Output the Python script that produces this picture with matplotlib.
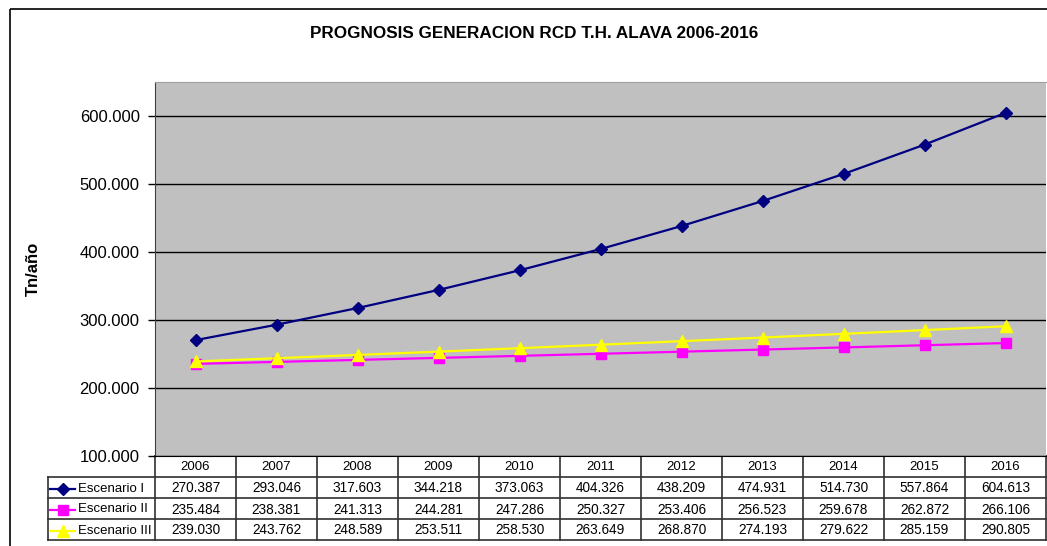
import numpy as np
import matplotlib.pyplot as plt
from matplotlib.patches import Rectangle

plt.rcParams['font.family'] = ['Liberation Sans', 'DejaVu Sans']

years = ['2006', '2007', '2008', '2009', '2010', '2011', '2012', '2013', '2014', '2015', '2016']
esc_1 = [270387, 293046, 317603, 344218, 373063, 404326, 438209, 474931, 514730, 557864, 604613]
esc_2 = [235484, 238381, 241313, 244281, 247286, 250327, 253406, 256523, 259678, 262872, 266106]
esc_3 = [239030, 243762, 248589, 253511, 258530, 263649, 268870, 274193, 279622, 285159, 290805]
names = ['Escenario I', 'Escenario II', 'Escenario III']
colors = ['#000080', '#FF00FF', '#FFFF00']
markers = ['D', 's', '^']
msizes = [6, 6.5, 8]

W, H = 1047, 546
fig = plt.figure(figsize=(W / 100, H / 100), dpi=100)

def fbox(x0, y0, x1, y1):
    # pixel box (top-left origin) -> figure rect
    return [x0 / W, 1 - y1 / H, (x1 - x0) / W, (y1 - y0) / H]

# overlay in pixel coords for border, title and table
over = fig.add_axes([0, 0, 1, 1])
over.set_xlim(0, W)
over.set_ylim(H, 0)
over.axis('off')
over.add_patch(Rectangle((10, 9), W + 20, H + 20, fill=False, ec='black', lw=1.2))
over.text(534, 33, 'PROGNOSIS GENERACION RCD T.H. ALAVA 2006-2016', ha='center', va='center',
          fontsize=12.3, fontweight='bold')
over.text(33, 269, 'Tn/año', rotation=90, ha='center', va='center', fontsize=12, fontweight='bold')

# chart
left, right, top, bottom = 155, 1046, 82, 456
ax = fig.add_axes(fbox(left, top, right, bottom))
ax.set_facecolor('#C0C0C0')
x = np.arange(len(years))
for vals, c, m, ms in zip([esc_1, esc_2, esc_3], colors, markers, msizes):
    ax.plot(x, vals, color=c, marker=m, markersize=ms, lw=1.6, zorder=3)
ax.set_xlim(-0.5, len(years) - 0.5)
ax.set_ylim(100000, 650000)
ax.set_yticks(np.arange(100000, 650000, 100000))
ax.set_yticklabels([f'{v:,.0f}'.replace(',', '.') for v in np.arange(100000, 650000, 100000)], fontsize=12)
ax.set_xticks([])
ax.grid(axis='y', color='black', lw=1)
ax.tick_params(axis='y', length=5, width=1, pad=6)
ax.spines['top'].set_color('#A0A0A0')
ax.spines['right'].set_visible(False)
ax.spines['left'].set_color('#404040')
ax.spines['bottom'].set_color('black')

# data table under the chart
colw = (right - left) / len(years)
row_h = 21
lc = '#303030'
rows = [esc_1, esc_2, esc_3]
y0 = bottom
over.plot([left, right], [y0, y0], color=lc, lw=1.2)
for i in range(len(years) + 1):
    xx = left + i * colw
    over.plot([xx, xx], [y0, y0 + 4 * row_h], color=lc, lw=1.2)
for j in range(1, 5):
    yy = y0 + j * row_h
    over.plot([48, right], [yy, yy], color=lc, lw=1.2)
over.plot([48, 48], [y0 + row_h, y0 + 4 * row_h], color=lc, lw=1.2)
for i, yr in enumerate(years):
    over.text(left + (i + 0.5) * colw, y0 + row_h / 2 + 1, yr, ha='center', va='center', fontsize=9.5)
for j, (vals, nm, c, m, ms) in enumerate(zip(rows, names, colors, markers, msizes)):
    yc = y0 + (j + 1.5) * row_h + 1
    over.plot([50, 75], [yc, yc], color=c, lw=1.6)
    over.plot([62.5], [yc], marker=m, color=c, markersize=ms)
    over.text(78, yc, nm, ha='left', va='center', fontsize=9.5)
    for i, v in enumerate(vals):
        over.text(left + (i + 0.5) * colw, yc, f'{v:,.0f}'.replace(',', '.'),
                  ha='center', va='center', fontsize=9.8)

fig.savefig('out.png', dpi=100)
